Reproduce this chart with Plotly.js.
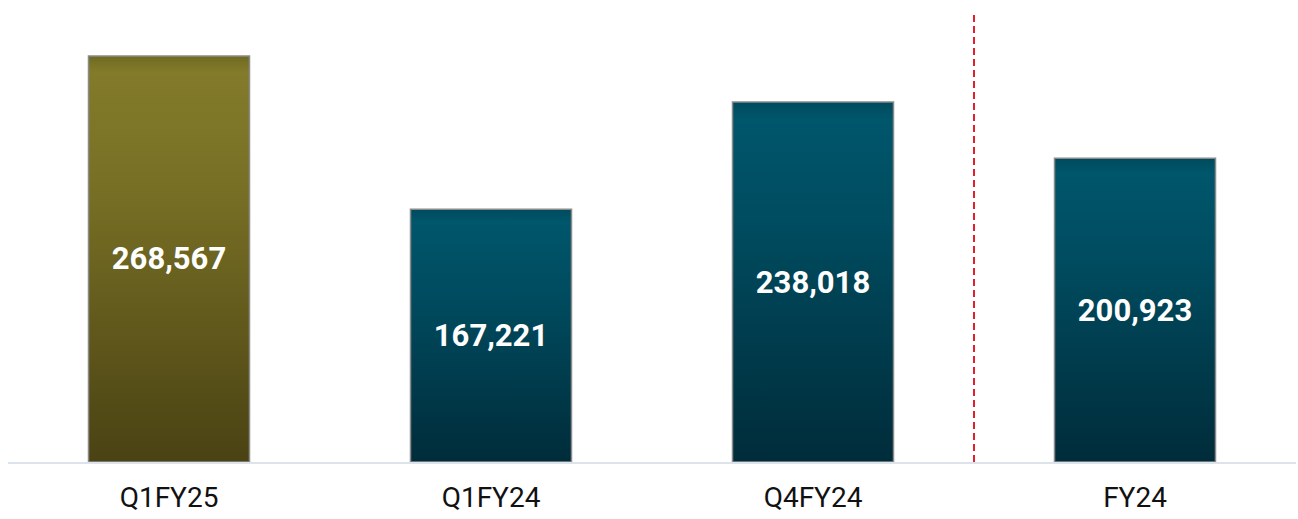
<!DOCTYPE html>
<html>
<head>
<meta charset="utf-8">
<script src="https://cdn.plot.ly/plotly-3.0.1.min.js"></script>
<style>html,body{margin:0;padding:0;background:#fff;}#chart{width:1298px;height:519px;}</style>
</head>
<body>
<div id="chart"></div>
<script>
const categories = ["Q1FY25", "Q1FY24", "Q4FY24", "FY24"];
const values = [268567, 167221, 238018, 200923];
const labels = ["268,567", "167,221", "238,018", "200,923"];
const gradIds = ["gOlive", "gTeal", "gTeal", "gTeal"];
const baseColors = ["#6b6420", "#004558", "#004558", "#004558"];

const trace = {
  type: "bar",
  x: categories,
  y: values,
  text: labels,
  textposition: "inside",
  insidetextanchor: "middle",
  textangle: 0,
  textfont: {family: "Roboto, sans-serif", size: 31, color: "#ffffff", weight: 700},
  marker: {color: baseColors, line: {color: "#8a8a8a", width: 1.5}},
  width: 0.5,
  hoverinfo: "none"
};

const layout = {
  width: 1298, height: 519,
  margin: {l: 8, r: 2, t: 15, b: 57},
  paper_bgcolor: "#ffffff", plot_bgcolor: "#ffffff",
  showlegend: false,
  xaxis: {
    type: "category",
    showline: true, linecolor: "#dde3ea", linewidth: 2,
    ticks: "", showgrid: false,
    ticklabelstandoff: 9,
    tickfont: {family: "Roboto, sans-serif", size: 28, color: "#111111"},
    range: [-0.5, 3.5]
  },
  yaxis: {
    range: [0, 295600], visible: false, showgrid: false, zeroline: false
  },
  shapes: [{
    type: "line", xref: "x", yref: "paper",
    x0: 2.5, x1: 2.5, y0: 0, y1: 1,
    line: {color: "#e0202a", width: 2, dash: "7px,4px"}
  }]
};

Plotly.newPlot("chart", [trace], layout, {staticPlot: true, displayModeBar: false}).then(function(gd){
  const svg = gd.querySelector("svg.main-svg");
  const ns = "http://www.w3.org/2000/svg";
  let defs = svg.querySelector("defs");
  if (!defs) { defs = document.createElementNS(ns, "defs"); svg.insertBefore(defs, svg.firstChild); }
  function addGrad(id, stops) {
    const g = document.createElementNS(ns, "linearGradient");
    g.setAttribute("id", id);
    g.setAttribute("x1", "0"); g.setAttribute("y1", "0");
    g.setAttribute("x2", "0"); g.setAttribute("y2", "1");
    stops.forEach(function(s){
      const st = document.createElementNS(ns, "stop");
      st.setAttribute("offset", s[0]);
      st.setAttribute("stop-color", s[1]);
      g.appendChild(st);
    });
    defs.appendChild(g);
  }
  addGrad("gOlive", [["0", "#6f6a22"], ["0.04", "#837b2a"], ["0.35", "#766e24"], ["1", "#4a4213"]]);
  addGrad("gTeal", [["0", "#004a5e"], ["0.05", "#00566b"], ["0.35", "#004b5f"], ["1", "#002c3a"]]);
  const paths = gd.querySelectorAll(".barlayer .point path");
  paths.forEach(function(p, i){
    p.style.fill = "url(#" + gradIds[i] + ")";
  });
});
</script>
</body>
</html>
